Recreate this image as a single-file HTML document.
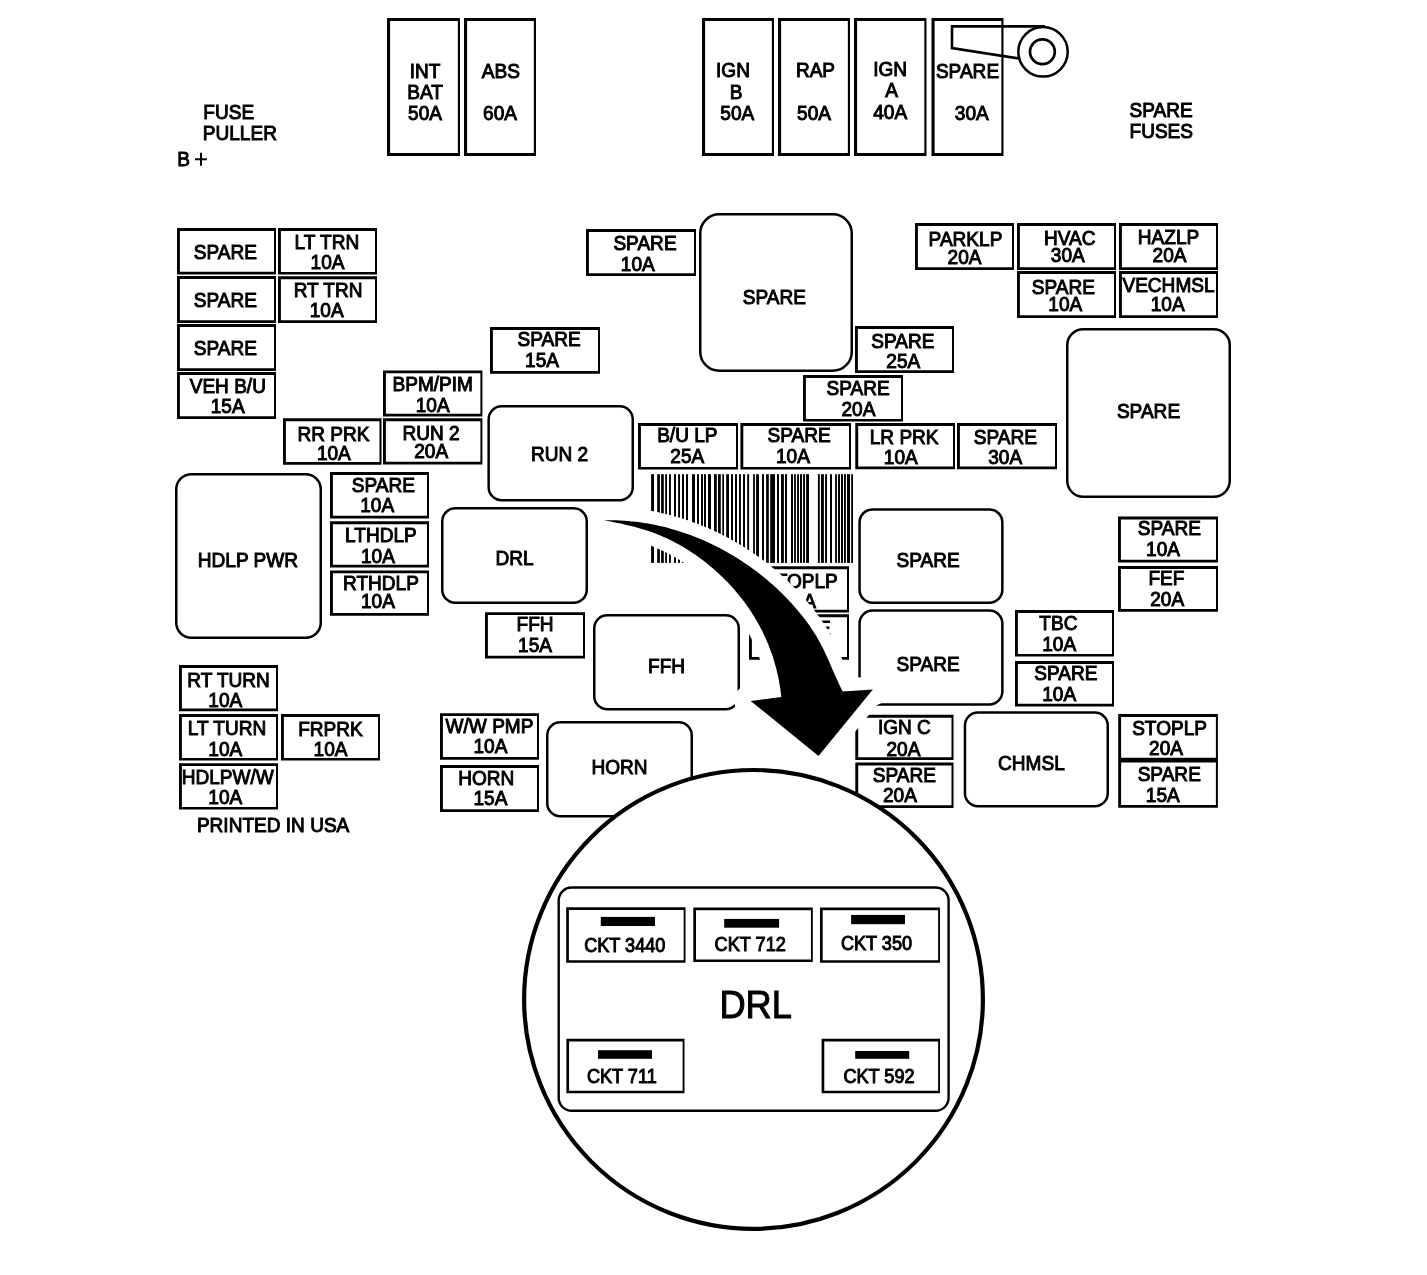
<!DOCTYPE html>
<html><head><meta charset="utf-8"><style>
html,body{margin:0;padding:0;background:#fff;}
body{width:1427px;height:1275px;overflow:hidden;}
svg{display:block;filter:grayscale(1);}
text{font-family:"Liberation Sans",sans-serif;fill:#000;stroke:#000;stroke-width:1.0px;}
</style></head><body>
<svg width="1427" height="1275" viewBox="0 0 1427 1275">
<rect x="0" y="0" width="1427" height="1275" fill="#fff"/>
<path d="M387.00,18.00H460.00V156.00H387.00Z M390.12,21.12V153.09H457.85V21.12Z" fill="#000" fill-rule="evenodd"/>
<text transform="translate(425.00,77.80) scale(0.93,1)" font-size="20.5" text-anchor="middle" >INT</text>
<text transform="translate(425.00,98.80) scale(0.93,1)" font-size="20.5" text-anchor="middle" >BAT</text>
<text transform="translate(425.00,119.80) scale(0.93,1)" font-size="20.5" text-anchor="middle" >50A</text>
<path d="M464.00,18.00H536.00V156.00H464.00Z M467.12,21.12V153.09H533.85V21.12Z" fill="#000" fill-rule="evenodd"/>
<text transform="translate(500.80,77.80) scale(0.93,1)" font-size="20.5" text-anchor="middle" >ABS</text>
<text transform="translate(500.00,119.80) scale(0.93,1)" font-size="20.5" text-anchor="middle" >60A</text>
<path d="M702.00,18.00H774.00V156.00H702.00Z M705.12,21.12V153.09H771.85V21.12Z" fill="#000" fill-rule="evenodd"/>
<text transform="translate(733.00,76.80) scale(0.93,1)" font-size="20.5" text-anchor="middle" >IGN</text>
<text transform="translate(736.00,98.80) scale(0.93,1)" font-size="20.5" text-anchor="middle" >B</text>
<text transform="translate(737.30,119.80) scale(0.93,1)" font-size="20.5" text-anchor="middle" >50A</text>
<path d="M778.00,18.00H850.00V156.00H778.00Z M781.12,21.12V153.09H847.85V21.12Z" fill="#000" fill-rule="evenodd"/>
<text transform="translate(815.50,76.60) scale(0.93,1)" font-size="20.5" text-anchor="middle" >RAP</text>
<text transform="translate(814.00,119.80) scale(0.93,1)" font-size="20.5" text-anchor="middle" >50A</text>
<path d="M854.00,18.00H926.50V156.00H854.00Z M857.12,21.12V153.09H924.35V21.12Z" fill="#000" fill-rule="evenodd"/>
<text transform="translate(890.15,76.30) scale(0.93,1)" font-size="20.5" text-anchor="middle" >IGN</text>
<text transform="translate(891.65,97.30) scale(0.93,1)" font-size="20.5" text-anchor="middle" >A</text>
<text transform="translate(890.15,119.20) scale(0.93,1)" font-size="20.5" text-anchor="middle" >40A</text>
<path d="M931.50,18.00H1003.50V156.00H931.50Z M934.62,21.12V153.09H1001.35V21.12Z" fill="#000" fill-rule="evenodd"/>
<text transform="translate(967.50,77.80) scale(0.93,1)" font-size="20.5" text-anchor="middle" >SPARE</text>
<text transform="translate(971.80,119.80) scale(0.93,1)" font-size="20.5" text-anchor="middle" >30A</text>
<text transform="translate(203.30,119.20) scale(0.93,1)" font-size="20.5" text-anchor="start" >FUSE</text>
<text transform="translate(202.80,139.60) scale(0.93,1)" font-size="20.5" text-anchor="start" >PULLER</text>
<text transform="translate(1129.50,116.80) scale(0.93,1)" font-size="20.5" text-anchor="start" >SPARE</text>
<text transform="translate(1129.50,137.90) scale(0.93,1)" font-size="20.5" text-anchor="start" >FUSES</text>
<text transform="translate(177.30,165.80) scale(0.93,1)" font-size="20.5" text-anchor="start" >B</text>
<text transform="translate(-100.00,-100.00) scale(0.93,1)" font-size="20.5" text-anchor="start" >+</text>
<path d="M195,159.3 H206.9 M201,152.8 V165.8" stroke="#000" stroke-width="2" fill="none"/>
<text transform="translate(196.90,832.30) scale(0.93,1)" font-size="20.5" text-anchor="start" >PRINTED IN USA</text>
<path d="M177.00,228.00H276.00V274.50H177.00Z M179.90,230.90V271.80H274.00V230.90Z" fill="#000" fill-rule="evenodd"/>
<text transform="translate(225.30,258.65) scale(0.93,1)" font-size="20.5" text-anchor="middle" >SPARE</text>
<path d="M177.00,276.00H276.00V323.00H177.00Z M179.90,278.90V320.30H274.00V278.90Z" fill="#000" fill-rule="evenodd"/>
<text transform="translate(225.30,306.90) scale(0.93,1)" font-size="20.5" text-anchor="middle" >SPARE</text>
<path d="M177.00,324.00H276.00V371.00H177.00Z M179.90,326.90V368.30H274.00V326.90Z" fill="#000" fill-rule="evenodd"/>
<text transform="translate(225.30,354.90) scale(0.93,1)" font-size="20.5" text-anchor="middle" >SPARE</text>
<path d="M177.00,372.00H276.00V419.00H177.00Z M179.90,374.90V416.30H274.00V374.90Z" fill="#000" fill-rule="evenodd"/>
<text transform="translate(227.80,393.40) scale(0.93,1)" font-size="20.5" text-anchor="middle" >VEH B/U</text>
<text transform="translate(227.70,413.10) scale(0.93,1)" font-size="20.5" text-anchor="middle" >15A</text>
<path d="M278.00,228.00H377.00V274.60H278.00Z M280.90,230.90V271.90H375.00V230.90Z" fill="#000" fill-rule="evenodd"/>
<text transform="translate(326.90,249.20) scale(0.93,1)" font-size="20.5" text-anchor="middle" >LT TRN</text>
<text transform="translate(327.50,268.80) scale(0.93,1)" font-size="20.5" text-anchor="middle" >10A</text>
<path d="M278.00,276.30H377.00V323.00H278.00Z M280.90,279.20V320.30H375.00V279.20Z" fill="#000" fill-rule="evenodd"/>
<text transform="translate(328.10,296.95) scale(0.93,1)" font-size="20.5" text-anchor="middle" >RT TRN</text>
<text transform="translate(326.70,316.55) scale(0.93,1)" font-size="20.5" text-anchor="middle" >10A</text>
<path d="M490.00,327.00H600.00V373.70H490.00Z M492.90,329.90V371.00H598.00V329.90Z" fill="#000" fill-rule="evenodd"/>
<text transform="translate(549.10,345.85) scale(0.93,1)" font-size="20.5" text-anchor="middle" >SPARE</text>
<text transform="translate(542.00,367.25) scale(0.93,1)" font-size="20.5" text-anchor="middle" >15A</text>
<path d="M586.00,229.00H696.00V276.00H586.00Z M588.90,231.90V273.30H694.00V231.90Z" fill="#000" fill-rule="evenodd"/>
<text transform="translate(645.00,250.40) scale(0.93,1)" font-size="20.5" text-anchor="middle" >SPARE</text>
<text transform="translate(637.80,271.00) scale(0.93,1)" font-size="20.5" text-anchor="middle" >10A</text>
<rect x="700.25" y="214.25" width="151.50" height="156.50" rx="19" ry="19" fill="none" stroke="#000" stroke-width="2.5"/>
<text transform="translate(774.40,303.60) scale(0.93,1)" font-size="20.5" text-anchor="middle" >SPARE</text>
<path d="M855.00,326.00H954.00V373.00H855.00Z M857.90,328.90V370.30H952.00V328.90Z" fill="#000" fill-rule="evenodd"/>
<text transform="translate(902.90,348.00) scale(0.93,1)" font-size="20.5" text-anchor="middle" >SPARE</text>
<text transform="translate(903.30,367.80) scale(0.93,1)" font-size="20.5" text-anchor="middle" >25A</text>
<path d="M803.00,375.00H903.00V421.60H803.00Z M805.90,377.90V418.90H901.00V377.90Z" fill="#000" fill-rule="evenodd"/>
<text transform="translate(858.10,395.10) scale(0.93,1)" font-size="20.5" text-anchor="middle" >SPARE</text>
<text transform="translate(858.40,415.90) scale(0.93,1)" font-size="20.5" text-anchor="middle" >20A</text>
<path d="M915.00,223.00H1014.00V270.00H915.00Z M917.90,225.90V267.30H1012.00V225.90Z" fill="#000" fill-rule="evenodd"/>
<text transform="translate(965.50,245.60) scale(0.93,1)" font-size="20.5" text-anchor="middle" >PARKLP</text>
<text transform="translate(964.50,263.50) scale(0.93,1)" font-size="20.5" text-anchor="middle" >20A</text>
<path d="M1017.00,223.00H1116.00V270.00H1017.00Z M1019.90,225.90V267.30H1114.00V225.90Z" fill="#000" fill-rule="evenodd"/>
<text transform="translate(1069.70,245.40) scale(0.93,1)" font-size="20.5" text-anchor="middle" >HVAC</text>
<text transform="translate(1067.80,262.40) scale(0.93,1)" font-size="20.5" text-anchor="middle" >30A</text>
<path d="M1119.00,223.00H1218.00V270.00H1119.00Z M1121.90,225.90V267.30H1216.00V225.90Z" fill="#000" fill-rule="evenodd"/>
<text transform="translate(1168.50,244.40) scale(0.93,1)" font-size="20.5" text-anchor="middle" >HAZLP</text>
<text transform="translate(1169.50,262.40) scale(0.93,1)" font-size="20.5" text-anchor="middle" >20A</text>
<path d="M1017.00,271.00H1116.00V318.00H1017.00Z M1019.90,273.90V315.30H1114.00V273.90Z" fill="#000" fill-rule="evenodd"/>
<text transform="translate(1063.40,294.40) scale(0.93,1)" font-size="20.5" text-anchor="middle" >SPARE</text>
<text transform="translate(1065.30,311.00) scale(0.93,1)" font-size="20.5" text-anchor="middle" >10A</text>
<path d="M1119.00,271.00H1218.00V318.00H1119.00Z M1121.90,273.90V315.30H1216.00V273.90Z" fill="#000" fill-rule="evenodd"/>
<text transform="translate(1168.50,292.40) scale(0.93,1)" font-size="20.5" text-anchor="middle" >VECHMSL</text>
<text transform="translate(1167.70,311.00) scale(0.93,1)" font-size="20.5" text-anchor="middle" >10A</text>
<rect x="1067.25" y="329.25" width="162.50" height="167.50" rx="16" ry="16" fill="none" stroke="#000" stroke-width="2.5"/>
<text transform="translate(1148.50,417.60) scale(0.93,1)" font-size="20.5" text-anchor="middle" >SPARE</text>
<path d="M383.00,370.40H482.40V416.40H383.00Z M385.90,373.30V413.70H480.40V373.30Z" fill="#000" fill-rule="evenodd"/>
<text transform="translate(432.70,390.50) scale(0.93,1)" font-size="20.5" text-anchor="middle" >BPM/PIM</text>
<text transform="translate(432.70,412.10) scale(0.93,1)" font-size="20.5" text-anchor="middle" >10A</text>
<path d="M383.00,418.30H482.40V464.40H383.00Z M385.90,421.20V461.70H480.40V421.20Z" fill="#000" fill-rule="evenodd"/>
<text transform="translate(431.10,440.45) scale(0.93,1)" font-size="20.5" text-anchor="middle" >RUN 2</text>
<text transform="translate(431.20,458.25) scale(0.93,1)" font-size="20.5" text-anchor="middle" >20A</text>
<path d="M283.00,418.30H381.50V464.70H283.00Z M285.90,421.20V462.00H379.50V421.20Z" fill="#000" fill-rule="evenodd"/>
<text transform="translate(333.55,441.00) scale(0.93,1)" font-size="20.5" text-anchor="middle" >RR PRK</text>
<text transform="translate(333.85,460.20) scale(0.93,1)" font-size="20.5" text-anchor="middle" >10A</text>
<rect x="488.65" y="406.25" width="144.10" height="93.90" rx="13" ry="13" fill="none" stroke="#000" stroke-width="2.5"/>
<text transform="translate(559.60,460.60) scale(0.93,1)" font-size="20.5" text-anchor="middle" >RUN 2</text>
<path d="M638.00,423.00H738.00V469.60H638.00Z M640.90,425.90V466.90H736.00V425.90Z" fill="#000" fill-rule="evenodd"/>
<text transform="translate(687.30,442.10) scale(0.93,1)" font-size="20.5" text-anchor="middle" >B/U LP</text>
<text transform="translate(687.30,463.20) scale(0.93,1)" font-size="20.5" text-anchor="middle" >25A</text>
<path d="M740.40,423.00H851.00V469.60H740.40Z M743.30,425.90V466.90H849.00V425.90Z" fill="#000" fill-rule="evenodd"/>
<text transform="translate(799.20,442.10) scale(0.93,1)" font-size="20.5" text-anchor="middle" >SPARE</text>
<text transform="translate(792.90,463.20) scale(0.93,1)" font-size="20.5" text-anchor="middle" >10A</text>
<path d="M855.30,423.00H955.00V469.30H855.30Z M858.20,425.90V466.60H953.00V425.90Z" fill="#000" fill-rule="evenodd"/>
<text transform="translate(904.15,444.05) scale(0.93,1)" font-size="20.5" text-anchor="middle" >LR PRK</text>
<text transform="translate(900.75,464.35) scale(0.93,1)" font-size="20.5" text-anchor="middle" >10A</text>
<path d="M957.00,423.00H1057.00V469.30H957.00Z M959.90,425.90V466.60H1055.00V425.90Z" fill="#000" fill-rule="evenodd"/>
<text transform="translate(1005.40,444.05) scale(0.93,1)" font-size="20.5" text-anchor="middle" >SPARE</text>
<text transform="translate(1005.20,464.35) scale(0.93,1)" font-size="20.5" text-anchor="middle" >30A</text>
<rect x="176.25" y="474.25" width="144.50" height="163.50" rx="15" ry="15" fill="none" stroke="#000" stroke-width="2.5"/>
<text transform="translate(247.90,566.60) scale(0.93,1)" font-size="20.5" text-anchor="middle" >HDLP PWR</text>
<path d="M330.00,472.00H429.00V518.40H330.00Z M332.90,474.90V515.70H427.00V474.90Z" fill="#000" fill-rule="evenodd"/>
<text transform="translate(383.30,491.60) scale(0.93,1)" font-size="20.5" text-anchor="middle" >SPARE</text>
<text transform="translate(377.20,512.10) scale(0.93,1)" font-size="20.5" text-anchor="middle" >10A</text>
<path d="M330.00,521.30H429.00V567.40H330.00Z M332.90,524.20V564.70H427.00V524.20Z" fill="#000" fill-rule="evenodd"/>
<text transform="translate(380.90,542.25) scale(0.93,1)" font-size="20.5" text-anchor="middle" >LTHDLP</text>
<text transform="translate(377.90,562.75) scale(0.93,1)" font-size="20.5" text-anchor="middle" >10A</text>
<path d="M330.00,570.40H429.00V615.70H330.00Z M332.90,573.30V613.00H427.00V573.30Z" fill="#000" fill-rule="evenodd"/>
<text transform="translate(380.90,590.15) scale(0.93,1)" font-size="20.5" text-anchor="middle" >RTHDLP</text>
<text transform="translate(377.90,607.65) scale(0.93,1)" font-size="20.5" text-anchor="middle" >10A</text>
<rect x="442.25" y="508.25" width="144.50" height="94.50" rx="13" ry="13" fill="none" stroke="#000" stroke-width="2.5"/>
<text transform="translate(514.50,565.40) scale(0.93,1)" font-size="20.5" text-anchor="middle" >DRL</text>
<rect x="859.55" y="509.45" width="142.80" height="93.30" rx="13" ry="13" fill="none" stroke="#000" stroke-width="2.5"/>
<text transform="translate(928.05,566.90) scale(0.93,1)" font-size="20.5" text-anchor="middle" >SPARE</text>
<rect x="859.55" y="610.55" width="142.80" height="93.90" rx="13" ry="13" fill="none" stroke="#000" stroke-width="2.5"/>
<text transform="translate(928.05,670.60) scale(0.93,1)" font-size="20.5" text-anchor="middle" >SPARE</text>
<path d="M1118.00,516.50H1218.00V562.40H1118.00Z M1120.90,519.40V559.70H1216.00V519.40Z" fill="#000" fill-rule="evenodd"/>
<text transform="translate(1169.40,534.65) scale(0.93,1)" font-size="20.5" text-anchor="middle" >SPARE</text>
<text transform="translate(1163.00,556.35) scale(0.93,1)" font-size="20.5" text-anchor="middle" >10A</text>
<path d="M1118.00,566.00H1218.00V611.80H1118.00Z M1120.90,568.90V609.10H1216.00V568.90Z" fill="#000" fill-rule="evenodd"/>
<text transform="translate(1166.40,584.50) scale(0.93,1)" font-size="20.5" text-anchor="middle" >FEF</text>
<text transform="translate(1167.20,605.80) scale(0.93,1)" font-size="20.5" text-anchor="middle" >20A</text>
<path d="M1015.00,610.00H1114.00V656.60H1015.00Z M1017.90,612.90V653.90H1112.00V612.90Z" fill="#000" fill-rule="evenodd"/>
<text transform="translate(1058.40,629.70) scale(0.93,1)" font-size="20.5" text-anchor="middle" >TBC</text>
<text transform="translate(1059.20,650.90) scale(0.93,1)" font-size="20.5" text-anchor="middle" >10A</text>
<path d="M1015.00,661.00H1114.00V706.40H1015.00Z M1017.90,663.90V703.70H1112.00V663.90Z" fill="#000" fill-rule="evenodd"/>
<text transform="translate(1065.80,679.70) scale(0.93,1)" font-size="20.5" text-anchor="middle" >SPARE</text>
<text transform="translate(1059.20,700.60) scale(0.93,1)" font-size="20.5" text-anchor="middle" >10A</text>
<path d="M485.00,612.20H585.00V658.50H485.00Z M487.90,615.10V655.80H583.00V615.10Z" fill="#000" fill-rule="evenodd"/>
<text transform="translate(535.00,631.05) scale(0.93,1)" font-size="20.5" text-anchor="middle" >FFH</text>
<text transform="translate(535.00,652.25) scale(0.93,1)" font-size="20.5" text-anchor="middle" >15A</text>
<rect x="594.25" y="615.25" width="144.50" height="94.00" rx="13" ry="13" fill="none" stroke="#000" stroke-width="2.5"/>
<text transform="translate(666.50,672.85) scale(0.93,1)" font-size="20.5" text-anchor="middle" >FFH</text>
<path d="M749.00,566.30H849.00V612.40H749.00Z M751.90,569.20V609.70H847.00V569.20Z" fill="#000" fill-rule="evenodd"/>
<text transform="translate(800.40,588.25) scale(0.93,1)" font-size="20.5" text-anchor="middle" >STOPLP</text>
<text transform="translate(799.00,608.25) scale(0.93,1)" font-size="20.5" text-anchor="middle" >20A</text>
<path d="M749.00,614.30H849.00V659.70H749.00Z M751.90,617.20V657.00H847.00V617.20Z" fill="#000" fill-rule="evenodd"/>
<text transform="translate(799.00,634.90) scale(0.93,1)" font-size="20.5" text-anchor="middle" >SPARE</text>
<text transform="translate(799.00,653.90) scale(0.93,1)" font-size="20.5" text-anchor="middle" >10A</text>
<path d="M179.00,665.00H278.00V711.30H179.00Z M181.90,667.90V708.60H276.00V667.90Z" fill="#000" fill-rule="evenodd"/>
<text transform="translate(228.50,687.05) scale(0.93,1)" font-size="20.5" text-anchor="middle" >RT TURN</text>
<text transform="translate(225.30,707.15) scale(0.93,1)" font-size="20.5" text-anchor="middle" >10A</text>
<path d="M179.00,714.00H278.00V760.60H179.00Z M181.90,716.90V757.90H276.00V716.90Z" fill="#000" fill-rule="evenodd"/>
<text transform="translate(227.00,735.30) scale(0.93,1)" font-size="20.5" text-anchor="middle" >LT TURN</text>
<text transform="translate(225.30,756.20) scale(0.93,1)" font-size="20.5" text-anchor="middle" >10A</text>
<path d="M179.00,763.20H278.00V809.60H179.00Z M181.90,766.10V806.90H276.00V766.10Z" fill="#000" fill-rule="evenodd"/>
<text transform="translate(227.70,784.40) scale(0.93,1)" font-size="20.5" text-anchor="middle" >HDLPW/W</text>
<text transform="translate(225.30,804.10) scale(0.93,1)" font-size="20.5" text-anchor="middle" >10A</text>
<path d="M281.00,714.00H380.00V760.60H281.00Z M283.90,716.90V757.90H378.00V716.90Z" fill="#000" fill-rule="evenodd"/>
<text transform="translate(330.50,736.10) scale(0.93,1)" font-size="20.5" text-anchor="middle" >FRPRK</text>
<text transform="translate(330.50,756.20) scale(0.93,1)" font-size="20.5" text-anchor="middle" >10A</text>
<path d="M440.00,713.20H539.00V759.80H440.00Z M442.90,716.10V757.10H537.00V716.10Z" fill="#000" fill-rule="evenodd"/>
<text transform="translate(489.50,733.20) scale(0.93,1)" font-size="20.5" text-anchor="middle" >W/W PMP</text>
<text transform="translate(490.40,753.40) scale(0.93,1)" font-size="20.5" text-anchor="middle" >10A</text>
<path d="M440.00,765.00H539.00V812.00H440.00Z M442.90,767.90V809.30H537.00V767.90Z" fill="#000" fill-rule="evenodd"/>
<text transform="translate(486.30,784.80) scale(0.93,1)" font-size="20.5" text-anchor="middle" >HORN</text>
<text transform="translate(490.40,804.60) scale(0.93,1)" font-size="20.5" text-anchor="middle" >15A</text>
<rect x="547.25" y="722.25" width="144.50" height="93.90" rx="13" ry="13" fill="none" stroke="#000" stroke-width="2.5"/>
<text transform="translate(619.50,774.00) scale(0.93,1)" font-size="20.5" text-anchor="middle" >HORN</text>
<path d="M855.30,714.80H953.50V760.00H855.30Z M858.20,717.70V757.30H951.50V717.70Z" fill="#000" fill-rule="evenodd"/>
<text transform="translate(904.40,733.80) scale(0.93,1)" font-size="20.5" text-anchor="middle" >IGN C</text>
<text transform="translate(903.40,755.60) scale(0.93,1)" font-size="20.5" text-anchor="middle" >20A</text>
<path d="M855.30,762.60H953.50V808.00H855.30Z M858.20,765.50V805.30H951.50V765.50Z" fill="#000" fill-rule="evenodd"/>
<text transform="translate(904.40,781.70) scale(0.93,1)" font-size="20.5" text-anchor="middle" >SPARE</text>
<text transform="translate(899.90,802.20) scale(0.93,1)" font-size="20.5" text-anchor="middle" >20A</text>
<rect x="964.95" y="712.55" width="142.80" height="93.60" rx="13" ry="13" fill="none" stroke="#000" stroke-width="2.5"/>
<text transform="translate(1031.45,769.95) scale(0.93,1)" font-size="20.5" text-anchor="middle" >CHMSL</text>
<path d="M1118.20,714.10H1217.90V760.50H1118.20Z M1121.10,717.00V757.80H1215.90V717.00Z" fill="#000" fill-rule="evenodd"/>
<text transform="translate(1169.55,735.40) scale(0.93,1)" font-size="20.5" text-anchor="middle" >STOPLP</text>
<text transform="translate(1166.05,755.20) scale(0.93,1)" font-size="20.5" text-anchor="middle" >20A</text>
<path d="M1118.20,759.50H1217.90V807.70H1118.20Z M1121.10,762.40V805.00H1215.90V762.40Z" fill="#000" fill-rule="evenodd"/>
<text transform="translate(1169.25,781.40) scale(0.93,1)" font-size="20.5" text-anchor="middle" >SPARE</text>
<text transform="translate(1162.75,801.90) scale(0.93,1)" font-size="20.5" text-anchor="middle" >15A</text>
<rect x="651.10" y="474.2" width="2.90" height="88.7" fill="#000"/>
<rect x="657.20" y="474.2" width="2.70" height="88.7" fill="#000"/>
<rect x="661.10" y="474.2" width="2.70" height="88.7" fill="#000"/>
<rect x="665.20" y="474.2" width="1.80" height="88.7" fill="#000"/>
<rect x="669.00" y="474.2" width="1.90" height="88.7" fill="#000"/>
<rect x="674.00" y="474.2" width="2.00" height="88.7" fill="#000"/>
<rect x="678.10" y="474.2" width="1.90" height="88.7" fill="#000"/>
<rect x="682.00" y="474.2" width="2.00" height="88.7" fill="#000"/>
<rect x="686.00" y="474.2" width="2.00" height="88.7" fill="#000"/>
<rect x="692.00" y="474.2" width="3.00" height="88.7" fill="#000"/>
<rect x="697.00" y="474.2" width="2.00" height="88.7" fill="#000"/>
<rect x="701.00" y="474.2" width="2.00" height="88.7" fill="#000"/>
<rect x="704.00" y="474.2" width="2.00" height="88.7" fill="#000"/>
<rect x="708.00" y="474.2" width="3.00" height="88.7" fill="#000"/>
<rect x="714.00" y="474.2" width="2.80" height="88.7" fill="#000"/>
<rect x="718.00" y="474.2" width="2.80" height="88.7" fill="#000"/>
<rect x="722.30" y="474.2" width="1.70" height="88.7" fill="#000"/>
<rect x="726.20" y="474.2" width="2.80" height="88.7" fill="#000"/>
<rect x="731.00" y="474.2" width="2.00" height="88.7" fill="#000"/>
<rect x="735.00" y="474.2" width="2.00" height="88.7" fill="#000"/>
<rect x="739.00" y="474.2" width="1.90" height="88.7" fill="#000"/>
<rect x="743.00" y="474.2" width="2.00" height="88.7" fill="#000"/>
<rect x="747.20" y="474.2" width="1.90" height="88.7" fill="#000"/>
<rect x="753.10" y="474.2" width="1.80" height="88.7" fill="#000"/>
<rect x="756.10" y="474.2" width="2.90" height="88.7" fill="#000"/>
<rect x="762.00" y="474.2" width="2.00" height="88.7" fill="#000"/>
<rect x="766.10" y="474.2" width="2.70" height="88.7" fill="#000"/>
<rect x="770.20" y="474.2" width="4.80" height="88.7" fill="#000"/>
<rect x="777.00" y="474.2" width="2.00" height="88.7" fill="#000"/>
<rect x="781.00" y="474.2" width="2.90" height="88.7" fill="#000"/>
<rect x="785.00" y="474.2" width="2.00" height="88.7" fill="#000"/>
<rect x="791.00" y="474.2" width="2.00" height="88.7" fill="#000"/>
<rect x="794.10" y="474.2" width="1.80" height="88.7" fill="#000"/>
<rect x="797.10" y="474.2" width="1.90" height="88.7" fill="#000"/>
<rect x="800.00" y="474.2" width="2.00" height="88.7" fill="#000"/>
<rect x="803.10" y="474.2" width="1.90" height="88.7" fill="#000"/>
<rect x="806.10" y="474.2" width="2.90" height="88.7" fill="#000"/>
<rect x="817.90" y="474.2" width="1.90" height="88.7" fill="#000"/>
<rect x="821.00" y="474.2" width="2.90" height="88.7" fill="#000"/>
<rect x="825.10" y="474.2" width="1.90" height="88.7" fill="#000"/>
<rect x="830.00" y="474.2" width="2.00" height="88.7" fill="#000"/>
<rect x="835.10" y="474.2" width="1.80" height="88.7" fill="#000"/>
<rect x="838.00" y="474.2" width="2.00" height="88.7" fill="#000"/>
<rect x="841.00" y="474.2" width="2.00" height="88.7" fill="#000"/>
<rect x="844.00" y="474.2" width="1.90" height="88.7" fill="#000"/>
<rect x="847.00" y="474.2" width="3.00" height="88.7" fill="#000"/>
<rect x="851.20" y="474.2" width="1.80" height="88.7" fill="#000"/>
<path d="M604.0,520.3 L608.0,520.2 L612.1,520.2 L616.1,520.3 L620.1,520.5 L624.1,520.7 L628.1,521.0 L632.1,521.4 L636.1,521.8 L640.0,522.3 L644.0,522.9 L648.0,523.6 L651.9,524.3 L655.8,525.1 L659.7,525.9 L663.6,526.8 L667.5,527.8 L671.4,528.9 L675.2,530.0 L679.0,531.2 L682.8,532.4 L686.6,533.7 L690.4,535.1 L694.1,536.5 L697.9,538.0 L701.6,539.5 L705.2,541.1 L708.9,542.8 L712.5,544.5 L716.1,546.3 L719.7,548.1 L723.2,550.0 L726.8,552.0 L730.2,554.0 L733.7,556.0 L737.1,558.1 L740.5,560.3 L743.9,562.5 L747.2,564.7 L750.5,567.1 L753.8,569.4 L757.0,571.8 L760.2,574.3 L763.3,576.8 L766.4,579.3 L769.5,581.9 L772.5,584.6 L775.5,587.3 L778.4,590.0 L781.3,592.8 L784.1,595.6 L786.9,598.4 L789.6,601.3 L792.3,604.2 L794.9,607.2 L797.5,610.2 L800.0,613.2 L802.5,616.3 L804.9,619.3 L807.2,622.5 L809.5,625.6 L811.6,628.8 L813.7,632.0 L815.8,635.3 L817.7,638.6 L819.6,641.9 L821.4,645.2 L823.1,648.6 L824.7,652.0 L826.3,655.4 L827.9,658.8 L829.4,662.3 L830.9,665.8 L832.5,669.4 L834.0,673.0 L835.6,676.6 L837.3,680.2 L839.0,683.9 L840.7,687.6 L842.6,691.4 L872.9,689.4 L818.5,755.9 L750.7,700.9 L781.3,697.0 L780.9,693.6 L780.5,690.2 L780.0,686.8 L779.4,683.4 L778.8,680.0 L778.1,676.6 L777.4,673.3 L776.6,670.0 L775.7,666.6 L774.8,663.4 L773.8,660.1 L772.8,656.8 L771.7,653.6 L770.5,650.4 L769.3,647.2 L768.1,644.0 L766.7,640.9 L765.4,637.8 L763.9,634.7 L762.5,631.6 L760.9,628.6 L759.3,625.6 L757.7,622.6 L756.0,619.7 L754.3,616.8 L752.5,613.9 L750.7,611.1 L748.8,608.3 L746.8,605.5 L744.9,602.8 L742.8,600.1 L740.8,597.4 L738.6,594.8 L736.5,592.2 L734.3,589.6 L732.0,587.1 L729.7,584.6 L727.4,582.1 L725.0,579.7 L722.6,577.3 L720.1,575.0 L717.6,572.6 L715.1,570.4 L712.5,568.1 L709.9,565.9 L707.3,563.8 L704.6,561.6 L701.9,559.6 L699.1,557.5 L696.4,555.5 L693.5,553.6 L690.7,551.7 L687.8,549.8 L684.9,548.0 L681.9,546.3 L679.0,544.6 L675.9,542.9 L672.9,541.3 L669.8,539.8 L666.7,538.3 L663.6,536.9 L660.4,535.5 L657.3,534.2 L654.1,533.0 L650.8,531.8 L647.6,530.7 L644.3,529.7 L641.0,528.7 L637.6,527.7 L634.3,526.8 L631.0,526.0 L627.6,525.2 L624.2,524.4 L620.9,523.6 L617.5,522.9 L614.1,522.2 L610.7,521.6 L607.4,520.9 L604.0,520.3 Z" fill="#fff" stroke="#fff" stroke-width="26" stroke-linejoin="round"/>
<circle cx="750.7" cy="700.9" r="16.5" fill="#fff"/>
<circle cx="872.9" cy="689.4" r="16" fill="#fff"/>
<path d="M604.0,520.3 L608.0,520.2 L612.1,520.2 L616.1,520.3 L620.1,520.5 L624.1,520.7 L628.1,521.0 L632.1,521.4 L636.1,521.8 L640.0,522.3 L644.0,522.9 L648.0,523.6 L651.9,524.3 L655.8,525.1 L659.7,525.9 L663.6,526.8 L667.5,527.8 L671.4,528.9 L675.2,530.0 L679.0,531.2 L682.8,532.4 L686.6,533.7 L690.4,535.1 L694.1,536.5 L697.9,538.0 L701.6,539.5 L705.2,541.1 L708.9,542.8 L712.5,544.5 L716.1,546.3 L719.7,548.1 L723.2,550.0 L726.8,552.0 L730.2,554.0 L733.7,556.0 L737.1,558.1 L740.5,560.3 L743.9,562.5 L747.2,564.7 L750.5,567.1 L753.8,569.4 L757.0,571.8 L760.2,574.3 L763.3,576.8 L766.4,579.3 L769.5,581.9 L772.5,584.6 L775.5,587.3 L778.4,590.0 L781.3,592.8 L784.1,595.6 L786.9,598.4 L789.6,601.3 L792.3,604.2 L794.9,607.2 L797.5,610.2 L800.0,613.2 L802.5,616.3 L804.9,619.3 L807.2,622.5 L809.5,625.6 L811.6,628.8 L813.7,632.0 L815.8,635.3 L817.7,638.6 L819.6,641.9 L821.4,645.2 L823.1,648.6 L824.7,652.0 L826.3,655.4 L827.9,658.8 L829.4,662.3 L830.9,665.8 L832.5,669.4 L834.0,673.0 L835.6,676.6 L837.3,680.2 L839.0,683.9 L840.7,687.6 L842.6,691.4 L872.9,689.4 L818.5,755.9 L750.7,700.9 L781.3,697.0 L780.9,693.6 L780.5,690.2 L780.0,686.8 L779.4,683.4 L778.8,680.0 L778.1,676.6 L777.4,673.3 L776.6,670.0 L775.7,666.6 L774.8,663.4 L773.8,660.1 L772.8,656.8 L771.7,653.6 L770.5,650.4 L769.3,647.2 L768.1,644.0 L766.7,640.9 L765.4,637.8 L763.9,634.7 L762.5,631.6 L760.9,628.6 L759.3,625.6 L757.7,622.6 L756.0,619.7 L754.3,616.8 L752.5,613.9 L750.7,611.1 L748.8,608.3 L746.8,605.5 L744.9,602.8 L742.8,600.1 L740.8,597.4 L738.6,594.8 L736.5,592.2 L734.3,589.6 L732.0,587.1 L729.7,584.6 L727.4,582.1 L725.0,579.7 L722.6,577.3 L720.1,575.0 L717.6,572.6 L715.1,570.4 L712.5,568.1 L709.9,565.9 L707.3,563.8 L704.6,561.6 L701.9,559.6 L699.1,557.5 L696.4,555.5 L693.5,553.6 L690.7,551.7 L687.8,549.8 L684.9,548.0 L681.9,546.3 L679.0,544.6 L675.9,542.9 L672.9,541.3 L669.8,539.8 L666.7,538.3 L663.6,536.9 L660.4,535.5 L657.3,534.2 L654.1,533.0 L650.8,531.8 L647.6,530.7 L644.3,529.7 L641.0,528.7 L637.6,527.7 L634.3,526.8 L631.0,526.0 L627.6,525.2 L624.2,524.4 L620.9,523.6 L617.5,522.9 L614.1,522.2 L610.7,521.6 L607.4,520.9 L604.0,520.3 Z" fill="#000"/>
<polyline points="1045,26.4 952,26.4 952,48.1 1018.5,58.4" fill="none" stroke="#000" stroke-width="2.6" stroke-linejoin="miter"/>
<circle cx="1043" cy="51.8" r="24.7" fill="#fff" stroke="#000" stroke-width="2.5"/>
<circle cx="1042.4" cy="51.8" r="12.4" fill="none" stroke="#000" stroke-width="2.7"/>
<circle cx="753.5" cy="999.4" r="229.4" fill="#fff" stroke="#000" stroke-width="4.2"/>
<rect x="558.70" y="887.50" width="389.90" height="223.30" rx="13" ry="13" fill="none" stroke="#000" stroke-width="2.4"/>
<path d="M566.20,907.20H685.50V962.70H566.20Z M568.88,909.88V960.21H683.65V909.88Z" fill="#000" fill-rule="evenodd"/>
<rect x="600.8" y="916.9" width="54.20" height="9.10" fill="#000"/>
<path d="M693.30,907.50H812.80V962.00H693.30Z M695.98,910.18V959.51H810.95V910.18Z" fill="#000" fill-rule="evenodd"/>
<rect x="724.2" y="918.9" width="54.90" height="8.80" fill="#000"/>
<path d="M820.00,907.50H940.00V962.80H820.00Z M822.68,910.18V960.31H938.15V910.18Z" fill="#000" fill-rule="evenodd"/>
<rect x="851.1" y="914.9" width="53.90" height="9.30" fill="#000"/>
<path d="M566.40,1038.70H684.50V1093.30H566.40Z M569.08,1041.38V1090.81H682.65V1041.38Z" fill="#000" fill-rule="evenodd"/>
<rect x="598" y="1050.2" width="54.00" height="8.60" fill="#000"/>
<path d="M821.60,1038.70H940.00V1093.30H821.60Z M824.28,1041.38V1090.81H938.15V1041.38Z" fill="#000" fill-rule="evenodd"/>
<rect x="855.2" y="1051" width="54.00" height="7.80" fill="#000"/>
<text transform="translate(624.80,951.60) scale(0.93,1)" font-size="19.5" text-anchor="middle" >CKT 3440</text>
<text transform="translate(750.20,951.00) scale(0.93,1)" font-size="19.5" text-anchor="middle" >CKT 712</text>
<text transform="translate(876.50,950.00) scale(0.93,1)" font-size="19.5" text-anchor="middle" >CKT 350</text>
<text transform="translate(621.80,1082.60) scale(0.93,1)" font-size="19.5" text-anchor="middle" >CKT 711</text>
<text transform="translate(879.00,1083.20) scale(0.93,1)" font-size="19.5" text-anchor="middle" >CKT 592</text>
<text transform="translate(755.70,1017.90) scale(0.93,1)" font-size="39" text-anchor="middle" >DRL</text>
</svg>
</body></html>
